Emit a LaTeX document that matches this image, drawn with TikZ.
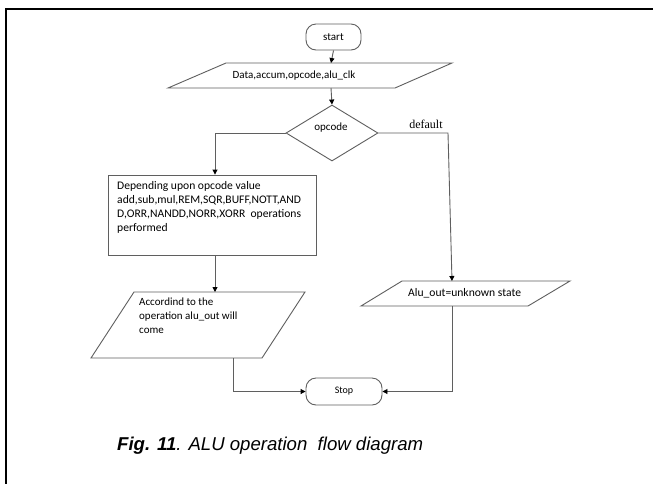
\documentclass[tikz,border=0pt]{standalone}
\usepackage{fontspec}
\setmainfont{Carlito}
\newfontfamily\serifface{Liberation Serif}
\newfontfamily\capface{Liberation Sans}
\usetikzlibrary{arrows.meta,shapes.geometric}
\definecolor{edge}{RGB}{95,95,95}
\begin{document}
\begin{tikzpicture}[x=1pt,y=-1pt,
  outline/.style={draw=edge,line width=0.9pt},
  terminal/.style={outline,rounded corners=10pt,inner sep=0pt,minimum width=55pt,minimum height=26pt,font=\fontsize{11}{13}\selectfont},
  flow/.style={draw=edge,line width=0.9pt,-{Triangle[length=5pt,width=5pt,color=black]}},
  txt/.style={font=\fontsize{11}{14}\selectfont,inner sep=0pt,align=left},
  bigtxt/.style={txt,font=\fontsize{11.6}{14}\selectfont},
]
\useasboundingbox (0,0) rectangle (653,483);
\fill[white] (0,0) rectangle (653,483);
% frame around the figure
\draw[line width=2.5pt] (6,9) rectangle (700,530);

% start terminal
\node[terminal] (start) at (333.5,37) {start};

% input parallelogram
\draw[outline] (226,63) -- (452,63) -- (395,88) -- (168,88) -- cycle;
\coordinate (inTop) at (331,63);
\coordinate (inBot) at (331,88);
\node[txt] (intext) at (294,75.5) {Data,accum,opcode,alu\_clk};

% decision
\node[outline,diamond,inner sep=0pt,minimum width=92pt,minimum height=56pt] (dec) at (332,133) {};
\node[txt] (declabel) at (331,128) {opcode};
\node[inner sep=0pt,font=\serifface\fontsize{12}{14}\selectfont] (deflabel) at (426,124) {default};

% operations box
\node[outline,inner sep=0pt,minimum width=208pt,minimum height=80pt] (ops) at (212,215) {};
\node[bigtxt,anchor=north west] (opstext) at (117,181.5) {Depending upon opcode value\\add,sub,mul,REM,SQR,BUFF,NOTT,AND\\D,ORR,NANDD,NORR,XORR~ operations\\performed};

% result parallelogram (left)
\draw[outline] (134,292) -- (305,292) -- (262,358) -- (91,358) -- cycle;
\coordinate (outTop) at (215,292);
\coordinate (outBot) at (233,358);
\node[txt,anchor=north west] (outtext) at (139,298) {Accordind to the\\operation alu\_out will\\come};

% default parallelogram (right)
\draw[outline] (402,281) -- (570,281) -- (528,306) -- (361,306) -- cycle;
\coordinate (aoTop) at (452,281);
\coordinate (aoBot) at (452,306);
\coordinate (rturn) at (448,133);
\node[bigtxt,anchor=west] (aotext) at (408,293.5) {Alu\_out=unknown state};

% stop terminal
\node[terminal,minimum width=76pt,minimum height=27pt,font=\fontsize{10}{12}\selectfont] (stop) at (344,391.5) {Stop};

% connectors
\draw[flow] (start.south) -- (inTop);
\draw[flow] (inBot) -- (dec.north);
\draw[flow] (dec.west) -| ([xshift=3pt]ops.north);
\draw[flow] (dec.east) -- (rturn) -- (aoTop);
\draw[flow] ([xshift=3pt]ops.south) -- (outTop);
\draw[flow] (outBot) |- (stop.west);
\draw[flow] (aoBot) |- (stop.east);

% caption
\node[anchor=base west,inner sep=0pt,font=\capface\fontsize{18.6}{22}\selectfont] (caption) at (117,450) {\textbf{\textit{Fig. 11}}\textit{. ALU operation~ flow diagram}};
\end{tikzpicture}
\end{document}
